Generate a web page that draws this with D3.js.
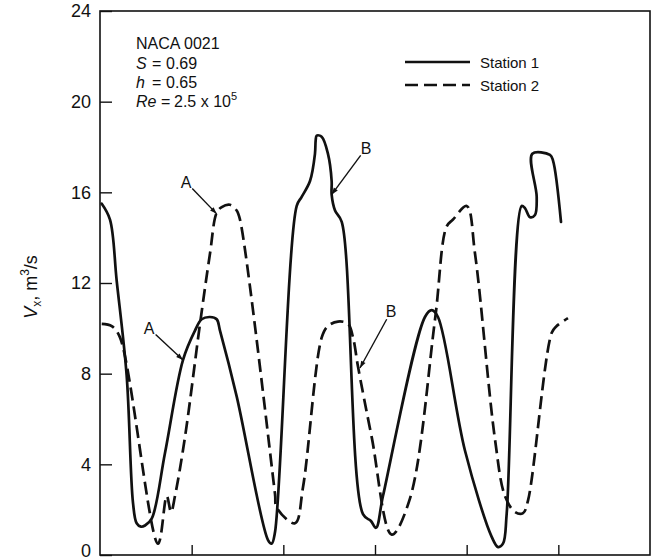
<!DOCTYPE html>
<html>
<head>
<meta charset="utf-8">
<script src="https://cdn.jsdelivr.net/npm/d3@7"></script>
<style>
  body { margin: 0; background: #fff; }
  text { font-family: "Liberation Sans", Arial, sans-serif; fill: #111; }
</style>
</head>
<body>
<script>
// Station 1 (solid) and Station 2 (dashed), x in tick intervals, y in m3/s
var station1X = [0.019, 0.109, 0.182, 0.291, 0.360, 0.400, 0.447, 0.491, 0.564, 0.709, 0.905, 1.036, 1.109, 1.200, 1.273, 1.309, 1.491,
                 1.833, 1.873, 1.909, 2.146, 2.200, 2.291, 2.345, 2.353, 2.364, 2.418, 2.487, 2.527, 2.527, 2.564, 2.637,
                 2.869, 2.956, 3.011, 3.087, 3.545, 3.619, 3.687, 3.982, 4.273, 4.342, 4.396, 4.437, 4.600, 4.636, 4.691,
                 4.745, 4.764, 4.716, 4.909, 4.942, 5.029];
var station1Y = [15.5, 14.8, 12.1, 7.9, 2.3, 1.4, 1.25, 1.3, 1.6, 4.5, 8.6, 9.9, 10.4, 10.5, 10.4, 9.9, 7.0,
                 0.66, 0.5, 1.0, 15.4, 15.8, 16.5, 17.7, 18.3, 18.5, 18.45, 17.7, 16.5, 15.9, 15.2, 14.7,
                 1.8, 1.5, 1.2, 2.6, 10.5, 10.8, 10.5, 4.6, 0.8, 0.35, 0.5, 1.85, 15.4, 15.3, 14.9,
                 15.0, 15.8, 17.7, 17.65, 17.4, 14.7];
var station2X = [0.019, 0.128, 0.218, 0.633, 0.728, 0.775, 0.818, 0.927, 1.091, 1.200, 1.273, 1.328, 1.418, 1.491, 1.527,
                 1.909, 1.927, 2.127, 2.215, 2.419, 2.487, 2.596, 2.705, 2.760, 2.815, 2.964, 3.182, 3.382, 3.655,
                 3.782, 3.851, 4.000, 4.091, 4.309, 4.418, 4.527, 4.615, 4.669, 4.928, 4.982, 5.105];
var station2Y = [10.2, 10.1, 9.6, 0.5, 2.6, 1.9, 2.6, 5.2, 10.2, 13.3, 15.1, 15.35, 15.45, 15.2, 14.8,
                 2.7, 2.1, 1.4, 3.0, 9.6, 10.1, 10.3, 10.2, 9.6, 8.3, 5.2, 0.9, 2.5, 10.4,
                 14.5, 14.8, 15.4, 13.3, 5.1, 2.6, 1.9, 1.85, 2.4, 9.8, 10.1, 10.45];

var yTicks = [0, 4, 8, 12, 16, 20, 24];
var xTicks = [1, 2, 3, 4, 5];

// annotation letters: label point and the curve point the arrow hits
var noteLabels = ["A", "A", "B", "B"];
var noteLabelX = [0.938, 0.535, 2.902, 3.175];
var noteLabelY = [16.45, 10.0, 17.95, 10.75];
var noteTipX = [1.273, 0.905, 2.527, 2.836];
var noteTipY = [15.05, 8.6, 15.9, 8.25];

var W = 661, H = 560;
var svg = d3.select("body").append("svg").attr("width", W).attr("height", H);

var x = d3.scaleLinear().domain([0, 6]).range([100, 650]);
var y = d3.scaleLinear().domain([0, 24]).range([555, 11]);

svg.append("defs").append("marker")
    .attr("id", "head")
    .attr("viewBox", "0 0 10 10")
    .attr("refX", 10).attr("refY", 5)
    .attr("markerUnits", "userSpaceOnUse")
    .attr("markerWidth", 10).attr("markerHeight", 7)
    .attr("orient", "auto")
  .append("path").attr("d", "M0,1.5L10,5L0,8.5Z").attr("fill", "#111");

// frame
svg.append("rect")
    .attr("x", x(0)).attr("y", y(24))
    .attr("width", x(6) - x(0)).attr("height", y(0) - y(24))
    .attr("fill", "none").attr("stroke", "#111").attr("stroke-width", 1.6);

var yAxis = svg.append("g").attr("transform", "translate(" + x(0) + ",0)")
    .call(d3.axisLeft(y).tickValues(yTicks).tickSize(-12).tickPadding(9));
yAxis.select(".domain").remove();
yAxis.selectAll("line").attr("stroke", "#111").attr("stroke-width", 1.4);
yAxis.selectAll("text").attr("font-size", 18).attr("font-family", "Liberation Sans, Arial, sans-serif").attr("fill", "#111")
    .attr("dy", function(d) { return d === 0 ? "0.1em" : "0.32em"; });

var xAxis = svg.append("g").attr("transform", "translate(0," + y(0) + ")")
    .call(d3.axisBottom(x).tickValues(xTicks).tickSize(-10).tickFormat(""));
xAxis.select(".domain").remove();
xAxis.selectAll("line").attr("stroke", "#111").attr("stroke-width", 1.4);

// y label
var yl = svg.append("text")
    .attr("transform", "translate(37," + 287 + ") rotate(-90)")
    .attr("text-anchor", "middle")
    .attr("font-size", 18);
yl.append("tspan").attr("font-style", "italic").text("V");
yl.append("tspan").attr("font-size", 12).attr("dy", 4).text("x");
yl.append("tspan").attr("dy", -4).text(", m");
yl.append("tspan").attr("font-size", 12).attr("dy", -8).text("3");
yl.append("tspan").attr("dy", 8).text("/s");

var line = d3.line()
    .x(function(d) { return x(d[0]); })
    .y(function(d) { return y(d[1]); })
    .curve(d3.curveCatmullRom.alpha(0.5));

var s1 = station1X.map(function(v, i) { return [v, station1Y[i]]; });
var s2 = station2X.map(function(v, i) { return [v, station2Y[i]]; });

svg.append("path").datum(s1).attr("d", line)
    .attr("fill", "none").attr("stroke", "#111").attr("stroke-width", 2.7)
    .attr("stroke-linejoin", "round").attr("stroke-linecap", "round");
svg.append("path").datum(s2).attr("d", line)
    .attr("fill", "none").attr("stroke", "#111").attr("stroke-width", 2.7)
    .attr("stroke-dasharray", "13,6");

// annotations
noteLabels.forEach(function(lab, i) {
    var lx = x(noteLabelX[i]), ly = y(noteLabelY[i]);
    var tx = x(noteTipX[i]), ty = y(noteTipY[i]);
    var dx = tx - lx, dy = ty - ly, len = Math.sqrt(dx * dx + dy * dy);
    svg.append("text").attr("x", lx).attr("y", ly + 6)
        .attr("text-anchor", "middle").attr("font-size", 16).text(lab);
    svg.append("line")
        .attr("x1", lx + dx / len * 9).attr("y1", ly + dy / len * 9)
        .attr("x2", tx).attr("y2", ty)
        .attr("stroke", "#111").attr("stroke-width", 1.4)
        .attr("marker-end", "url(#head)");
});

// text block
var tb = svg.append("g").attr("font-size", 16);
tb.append("text").attr("x", 136).attr("y", 49).text("NACA 0021");
var rows = [["S", "0.69", 69], ["h", "0.65", 88]];
rows.forEach(function(r) {
    tb.append("text").attr("x", 136).attr("y", r[2]).attr("font-style", "italic").text(r[0]);
    tb.append("text").attr("x", 152).attr("y", r[2]).text("=");
    tb.append("text").attr("x", 166).attr("y", r[2]).text(r[1]);
});
tb.append("text").attr("x", 136).attr("y", 107).attr("font-style", "italic").text("Re");
tb.append("text").attr("x", 161).attr("y", 107).text("=");
tb.append("text").attr("x", 174).attr("y", 107).text("2.5 x 10")
  .append("tspan").attr("font-size", 11).attr("dy", -7).text("5");

// legend
var leg = [["Station 1", 62, null], ["Station 2", 85, "13,6"]];
leg.forEach(function(l) {
    svg.append("line").attr("x1", 405).attr("x2", 470).attr("y1", l[1]).attr("y2", l[1])
        .attr("stroke", "#111").attr("stroke-width", 2.6)
        .attr("stroke-dasharray", l[2]);
    svg.append("text").attr("x", 480).attr("y", l[1] + 5.5).attr("font-size", 15).text(l[0]);
});
</script>
</body>
</html>
